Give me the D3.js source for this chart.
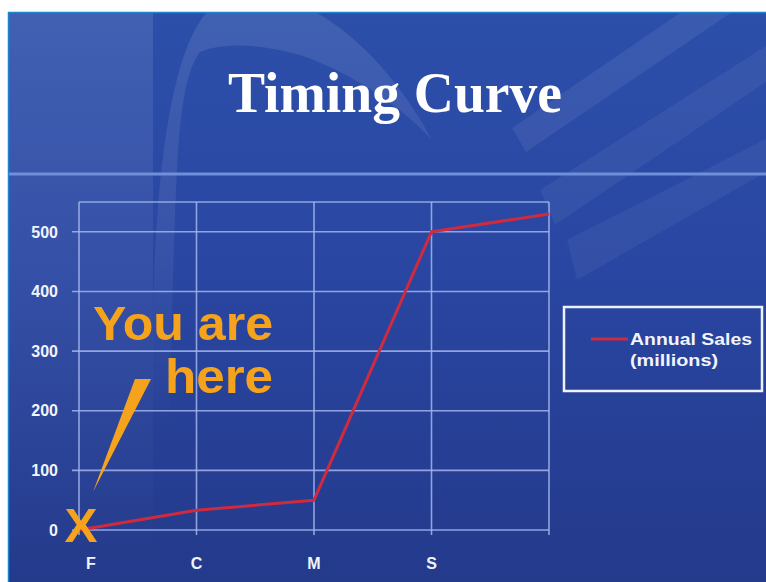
<!DOCTYPE html>
<html><head><meta charset="utf-8">
<script src="https://cdn.jsdelivr.net/npm/d3@7"></script>
<style>html,body{margin:0;padding:0;background:#fff;}svg{display:block;}</style>
</head><body>
<script>
const categories = ["F", "C", "M", "S", ""];
const salesValues = [0, 33, 50, 500, 530];
const yTicks = [0, 100, 200, 300, 400, 500];
const seriesName = ["Annual Sales", "(millions)"];
const titleText = "Timing Curve";

const W = 766, H = 582;
const svg = d3.select("body").append("svg").attr("width", W).attr("height", H);
const defs = svg.append("defs");
const bg = defs.append("linearGradient").attr("id","bg").attr("x1",0).attr("y1",0).attr("x2",0).attr("y2",1);
bg.append("stop").attr("offset","0%").attr("stop-color","#2c4faa");
bg.append("stop").attr("offset","45%").attr("stop-color","#2946a2");
bg.append("stop").attr("offset","100%").attr("stop-color","#243a8b");
const lg = defs.append("linearGradient").attr("id","leftg").attr("x1",0).attr("y1",0).attr("x2",0).attr("y2",1);
lg.append("stop").attr("offset","0%").attr("stop-color","#ffffff").attr("stop-opacity",0.10);
lg.append("stop").attr("offset","60%").attr("stop-color","#ffffff").attr("stop-opacity",0.04);
lg.append("stop").attr("offset","100%").attr("stop-color","#ffffff").attr("stop-opacity",0);
const cg = defs.append("linearGradient").attr("id","cresg").attr("gradientUnits","userSpaceOnUse")
  .attr("x1",0).attr("y1",0).attr("x2",0).attr("y2",430);
cg.append("stop").attr("offset","0%").attr("stop-color","#ffffff").attr("stop-opacity",0.10);
cg.append("stop").attr("offset","55%").attr("stop-color","#ffffff").attr("stop-opacity",0.07);
cg.append("stop").attr("offset","100%").attr("stop-color","#ffffff").attr("stop-opacity",0);
defs.append("clipPath").attr("id","slide").append("rect").attr("x",8).attr("y",12).attr("width",W-8).attr("height",H-12);

// slide background
svg.append("rect").attr("x",8).attr("y",12).attr("width",W-8).attr("height",H-12).attr("fill","url(#bg)");
const deco = svg.append("g").attr("clip-path","url(#slide)");
deco.append("rect").attr("x",8).attr("y",12).attr("width",145).attr("height",H-12).attr("fill","url(#leftg)");
// crescent swoosh
deco.append("path")
  .attr("d","M153,430 C150,250 160,110 190,40 C198,22 206,12 215,5 L300,5 C350,25 400,80 432,140 C400,105 350,72 300,55 C260,44 225,42 200,52 C186,70 180,110 177,170 C174,230 172,300 170,430 Z")
  .attr("fill","url(#cresg)");
// diagonal stripes upper right
deco.append("path").attr("d","M512,128 L526,152 L766,-11 L766,-46 Z").attr("fill","#fff").attr("opacity",0.07);
deco.append("path").attr("d","M540,190 L555,225 L766,82 L766,46 Z").attr("fill","#fff").attr("opacity",0.055);
deco.append("path").attr("d","M567,240 L577,280 L766,172 L766,139 Z").attr("fill","#fff").attr("opacity",0.05);
// border of slide
svg.append("line").attr("x1",8).attr("y1",12.5).attr("x2",W).attr("y2",12.5).attr("stroke","#1f84d0").attr("stroke-width",1.5);
svg.append("line").attr("x1",8.5).attr("y1",12).attr("x2",8.5).attr("y2",H).attr("stroke","#1f84d0").attr("stroke-width",1.5);
// separator
svg.append("line").attr("x1",9).attr("y1",174).attr("x2",W).attr("y2",174).attr("stroke","#6f8fd8").attr("stroke-width",3);

// title
svg.append("text").attr("x",395).attr("y",112).attr("text-anchor","middle")
  .attr("font-family","'Liberation Serif','Times New Roman',serif").attr("font-weight","bold")
  .attr("font-size",58).attr("fill","#ffffff").attr("textLength",334).attr("lengthAdjust","spacingAndGlyphs")
  .text(titleText);

// scales
const x = d3.scalePoint().domain(categories).range([79, 549]);
const y = d3.scaleLinear().domain([0, 550]).range([530, 202]);
const gridColor = "#a4b6ee";

// horizontal grid + ticks
const g = svg.append("g");
g.selectAll("line.h").data(yTicks.concat([550])).join("line")
  .attr("x1", d => d === 550 ? 79 : 72).attr("x2", 549)
  .attr("y1", d => y(d)).attr("y2", d => y(d))
  .attr("stroke", gridColor).attr("stroke-width",1.6).attr("opacity",0.85);
g.selectAll("line.v").data(categories).join("line")
  .attr("x1", d => x(d)).attr("x2", d => x(d))
  .attr("y1", y(550)).attr("y2", 535)
  .attr("stroke", gridColor).attr("stroke-width",1.6).attr("opacity",0.85);

// y labels
g.selectAll("text.yl").data(yTicks).join("text")
  .attr("x", 58).attr("y", d => y(d)).attr("dy","0.36em").attr("text-anchor","end")
  .attr("font-family","'Liberation Sans',Arial,sans-serif").attr("font-weight","bold")
  .attr("font-size",16).attr("fill","#f2f4fb").text(d => d);
// x labels
g.selectAll("text.xl").data(categories).join("text")
  .attr("x", (d,i) => x(d) + (i === 0 ? 12 : 0)).attr("y", 569).attr("text-anchor","middle")
  .attr("font-family","'Liberation Sans',Arial,sans-serif").attr("font-weight","bold")
  .attr("font-size",16).attr("fill","#f2f4fb").text(d => d);

// series line
const line = d3.line().x((d,i) => x(categories[i])).y(d => y(d));
svg.append("path").datum(salesValues).attr("d", line)
  .attr("fill","none").attr("stroke","#cf2b3e").attr("stroke-width",3).attr("stroke-linejoin","round");

// legend
svg.append("rect").attr("x",564).attr("y",307).attr("width",198).attr("height",84)
  .attr("fill","none").attr("stroke","#eef2fc").attr("stroke-width",2.5);
svg.append("line").attr("x1",591).attr("x2",628).attr("y1",339).attr("y2",339)
  .attr("stroke","#cf2b3e").attr("stroke-width",3);
svg.append("text").attr("x",630).attr("y",345)
  .attr("font-family","'Liberation Sans',Arial,sans-serif").attr("font-weight","bold")
  .attr("font-size",17).attr("fill","#f2f4fb").attr("textLength",122).attr("lengthAdjust","spacingAndGlyphs").text(seriesName[0]);
svg.append("text").attr("x",630).attr("y",366)
  .attr("font-family","'Liberation Sans',Arial,sans-serif").attr("font-weight","bold")
  .attr("font-size",17).attr("fill","#f2f4fb").attr("textLength",88).attr("lengthAdjust","spacingAndGlyphs").text(seriesName[1]);

// annotation
const orange = "#f5a31c";
const ann = svg.append("g").attr("fill", orange)
  .attr("font-family","'Liberation Sans',Arial,sans-serif").attr("font-weight","bold");
ann.append("text").attr("x",273).attr("y",340).attr("text-anchor","end").attr("font-size",48)
  .attr("textLength",180).attr("lengthAdjust","spacingAndGlyphs").text("You are");
ann.append("text").attr("x",273).attr("y",393).attr("text-anchor","end").attr("font-size",48)
  .attr("textLength",108).attr("lengthAdjust","spacingAndGlyphs").text("here");
ann.append("path").attr("d","M135,379 L151,379 L93,492 Z");
ann.append("text").attr("x",81).attr("y",542).attr("text-anchor","middle").attr("font-size",48)
  .attr("textLength",33).attr("lengthAdjust","spacingAndGlyphs").text("X");
</script>
</body></html>
